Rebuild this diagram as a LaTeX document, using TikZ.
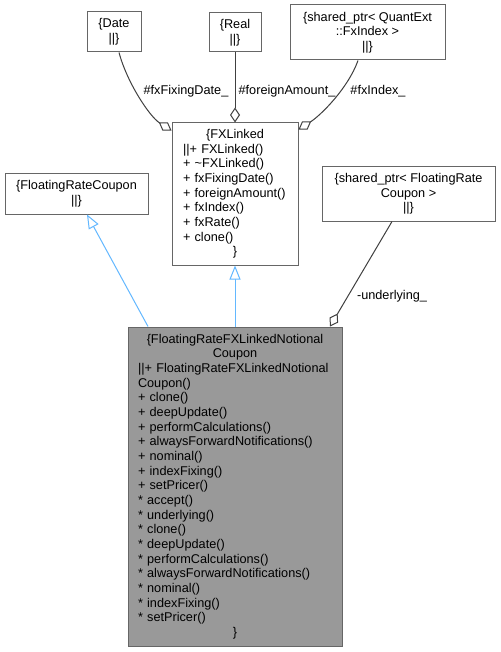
\documentclass[tikz,border=0pt]{standalone}
\usepackage{fontspec}
\setmainfont{Liberation Sans}
\usetikzlibrary{arrows.meta}
\definecolor{boxgray}{HTML}{666666}
\definecolor{edgegray}{HTML}{404040}
\definecolor{inhblue}{HTML}{63B8FF}
\definecolor{mainfill}{HTML}{999999}
\newcommand{\ctrline}[1]{\hspace*{\fill}#1\hspace*{\fill}\null}
\begin{document}
\begin{tikzpicture}[x=1pt,y=-1pt,
  txt/.style={font=\fontsize{12.7}{14.67}\selectfont},
  box/.style={txt, draw=boxgray, line width=1pt, fill=white, inner sep=0pt},
  agg/.style={draw=edgegray, line width=1pt, -{Diamond[open, length=15pt, width=10pt, fill=white]}},
  inh/.style={draw=inhblue, line width=1pt, -{Triangle[open, length=14pt, width=11pt, fill=white]}},
  elabel/.style={txt, inner sep=0pt}]
\useasboundingbox (0,0) rectangle (500,652);
\fill[white] (0,0) rectangle (500,652);

\node[box, minimum width=54, minimum height=40, align=center] (date) at (114,32) {\{Date\\||\}};
\node[box, minimum width=52, minimum height=39, align=center] (real) at (235,32.5) {\{Real\\||\}};
\node[box, minimum width=155, minimum height=55, align=center] (qe) at (367.5,32.5) {\{shared\_ptr< QuantExt\\::FxIndex >\\||\}};
\node[box, minimum width=126, minimum height=142, text width=104, align=left] (fx) at (235,194)
 {\ctrline{\{FXLinked}\\||+ FXLinked()\\+ \textasciitilde FXLinked()\\+ fxFixingDate()\\+ foreignAmount()\\+ fxIndex()\\+ fxRate()\\+ clone()\\\ctrline{\}}};
\node[box, minimum width=143, minimum height=40, align=center] (frc) at (76.5,194) {\{FloatingRateCoupon\\||\}};
\node[box, minimum width=173, minimum height=54, align=center] (sfrc) at (408.5,194) {\{shared\_ptr< FloatingRate\\Coupon >\\||\}};
\node[box, fill=mainfill, minimum width=214, minimum height=319, text width=194, align=left] (main) at (235,486.5)
 {\ctrline{\{FloatingRateFXLinkedNotional}\\\ctrline{Coupon}\\||+ FloatingRateFXLinkedNotional\\Coupon()\\+ clone()\\+ deepUpdate()\\+ performCalculations()\\+ alwaysForwardNotifications()\\+ nominal()\\+ indexFixing()\\+ setPricer()\\{*} accept()\\{*} underlying()\\{*} clone()\\{*} deepUpdate()\\{*} performCalculations()\\{*} alwaysForwardNotifications()\\{*} nominal()\\{*} indexFixing()\\{*} setPricer()\\\ctrline{\}}};

% aggregation edges
\draw[agg] ([xshift=5pt]date.south) .. controls +(8,30) and +(-22,-14) .. ([yshift=-8pt]fx.north west);
\draw[agg] (real.south) -- (fx.north);
\draw[agg] ([xshift=-9.5pt]qe.south) .. controls +(-10,28) and +(22,-14) .. ([yshift=-7pt]fx.north east);
\draw[agg] ([xshift=-16.5pt]sfrc.south) -- ([xshift=95pt]main.north);

% inheritance edges
\draw[inh] ([xshift=-87pt]main.north) -- ([xshift=10.5pt]frc.south);
\draw[inh] (main.north) -- (fx.south);

% labels
\node[elabel] (l1) at (186,91) {\#fxFixingDate\_};
\node[elabel] (l2) at (287,91) {\#foreignAmount\_};
\node[elabel] (l3) at (378,91) {\#fxIndex\_};
\node[elabel] (l4) at (392,296) {-underlying\_};
\end{tikzpicture}
\end{document}
